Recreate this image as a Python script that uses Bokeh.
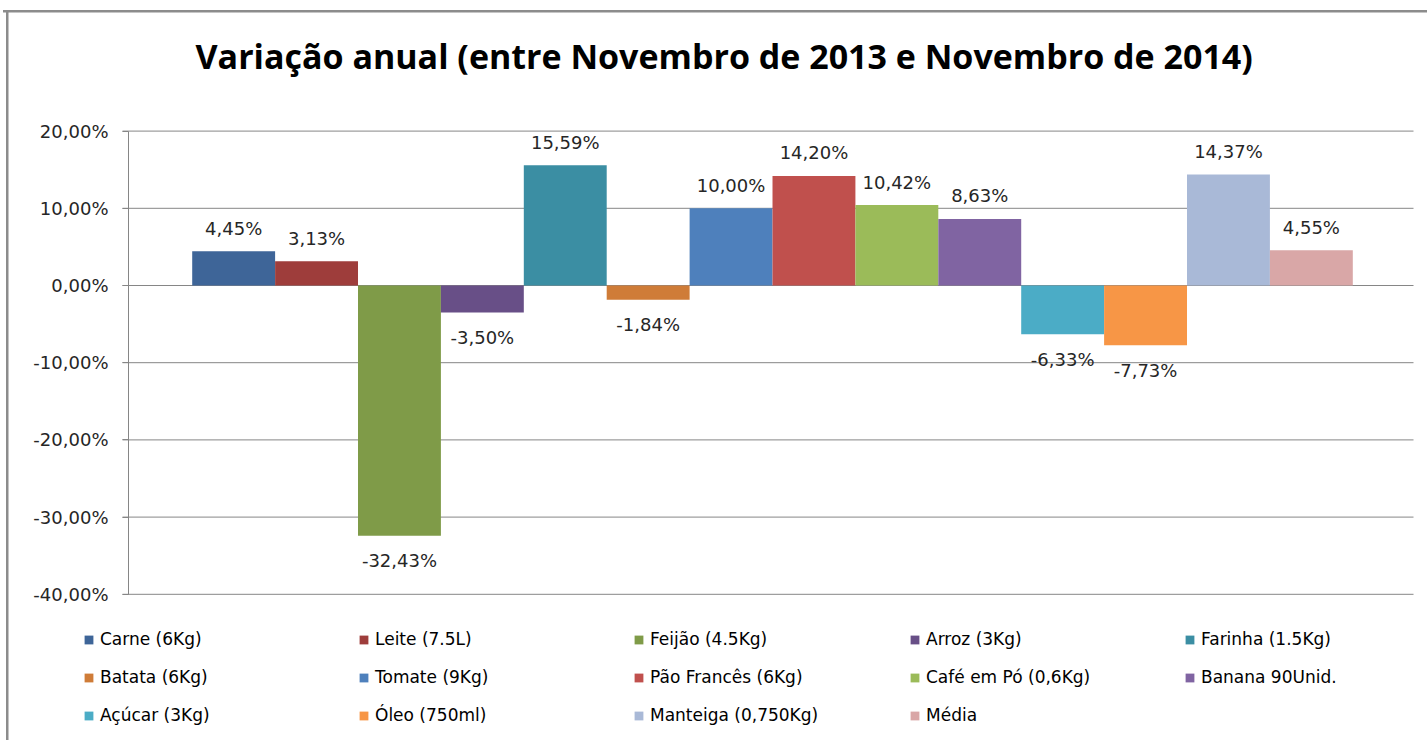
from bokeh.plotting import figure
from bokeh.models import (ColumnDataSource, Range1d, FixedTicker, Legend, LegendItem, Label)
from bokeh.core.properties import value
from bokeh.embed import file_html
from bokeh.resources import INLINE

# ---------------- data ----------------
title_text = "Variação anual (entre Novembro de 2013 e Novembro de 2014)"
categories = ["Carne (6Kg)", "Leite (7.5L)", "Feijão (4.5Kg)", "Arroz (3Kg)", "Farinha (1.5Kg)",
              "Batata (6Kg)", "Tomate (9Kg)", "Pão Francês (6Kg)", "Café em Pó (0,6Kg)",
              "Banana 90Unid.", "Açúcar (3Kg)", "Óleo (750ml)", "Manteiga (0,750Kg)", "Média"]
variacao = [4.45, 3.13, -32.43, -3.50, 15.59, -1.84, 10.00, 14.20, 10.42, 8.63,
            -6.33, -7.73, 14.37, 4.55]
cores = ["#3E6598", "#9E3D3B", "#7F9B48", "#684F87", "#3B8EA3", "#CF7C38", "#4E80BC",
         "#C0504D", "#9BBB59", "#8064A2", "#4BACC6", "#F79646", "#A9B9D7", "#D9A7A7"]
y_ticks = [-40, -30, -20, -10, 0, 10, 20]
y_tick_labels = ["-40,00%", "-30,00%", "-20,00%", "-10,00%", "0,00%", "10,00%", "20,00%"]

FONT = "DejaVu Sans"
TXT = "#262626"
GRID = "#868686"
BORDER = "#8c8c8c"

W, H = 1427, 740
PX_X = 82.9          # pixels per bar slot
PX_Y = 7.72          # pixels per percentage point
X0 = -2.8125         # data x at the left edge of the canvas
Y_TOP = 285 / PX_Y   # data y at the top edge of the canvas


def dx(px):   # horizontal pixel position -> data x
    return X0 + px / PX_X


xs = list(range(len(categories)))
rotulos = [("%.2f" % v).replace(".", ",") + "%" for v in variacao]
offsets = [-23 if v >= 0 else 25 for v in variacao]

src = ColumnDataSource(dict(x=xs, y=variacao, cat=categories, cor=cores,
                            rot=rotulos, off=offsets))

p = figure(frame_width=W, frame_height=H,
           min_border_left=0, min_border_right=0, min_border_top=0, min_border_bottom=0,
           x_range=Range1d(X0, X0 + W / PX_X), y_range=Range1d(Y_TOP - H / PX_Y, Y_TOP),
           output_backend="svg", toolbar_location=None, tools="")

p.outline_line_color = None
p.background_fill_color = None
p.border_fill_color = None
p.styles = {
    "background": ("linear-gradient(%s, %s) 6px 10px / 2.5px 100%% no-repeat, "
                   "linear-gradient(%s, %s) 3px 10px / 100%% 2.5px no-repeat, #ffffff")
                  % (BORDER, BORDER, BORDER, BORDER)
}

# horizontal gridlines of the plot area (at the tick values)
p.segment(x0=dx(122), x1=dx(1413), y0=y_ticks, y1=y_ticks, line_color=GRID, line_width=1)

bars = p.vbar(x="x", top="y", bottom=0, width=1.0, fill_color="cor", line_color=None, source=src)

p.text(x="x", y="y", text="rot", y_offset="off", source=src,
       text_align="center", text_baseline="middle",
       text_font=value(FONT), text_font_size="18px", text_color=TXT)

# axes
p.xaxis.visible = False
p.xgrid.visible = False
p.ygrid.visible = False
ax = p.yaxis[0]
ax.fixed_location = dx(128)
ax.bounds = (min(y_ticks), max(y_ticks))
ax.ticker = FixedTicker(ticks=y_ticks)
ax.major_label_overrides = {t: l for t, l in zip(y_ticks, y_tick_labels)}
ax.minor_tick_line_color = None
ax.major_tick_in = 0
ax.major_tick_out = 6
ax.major_tick_line_color = GRID
ax.axis_line_color = GRID
ax.major_label_standoff = 14
ax.major_label_text_font = FONT
ax.major_label_text_font_size = "18px"
ax.major_label_text_color = TXT

# title
p.add_layout(Label(x=195, y=H - 55, x_units="screen", y_units="screen", text=title_text,
                   text_align="left", text_baseline="middle",
                   text_font="Open Sans", text_font_style="bold", text_font_size="34px",
                   text_color="black"))

# legend: 5 columns, row-major order, below the plot area
col_left = [83, 358, 633, 909, 1184]
ncols = 5
for c in range(ncols):
    idxs = list(range(c, len(categories), ncols))
    items = [LegendItem(label=categories[i], renderers=[bars], index=i) for i in idxs]
    n = len(idxs)
    bottom = 629 + 20 * n + 18 * (n - 1)
    lg = Legend(items=items, location=(col_left[c], H - bottom), orientation="vertical",
                glyph_width=11, glyph_height=11, label_height=20, label_standoff=6,
                spacing=18, padding=0, margin=0,
                border_line_alpha=0, background_fill_alpha=0,
                label_text_font=FONT, label_text_font_size="17px", label_text_color="black")
    p.add_layout(lg, "center")

open("out.html", "w").write(file_html(p, INLINE))
